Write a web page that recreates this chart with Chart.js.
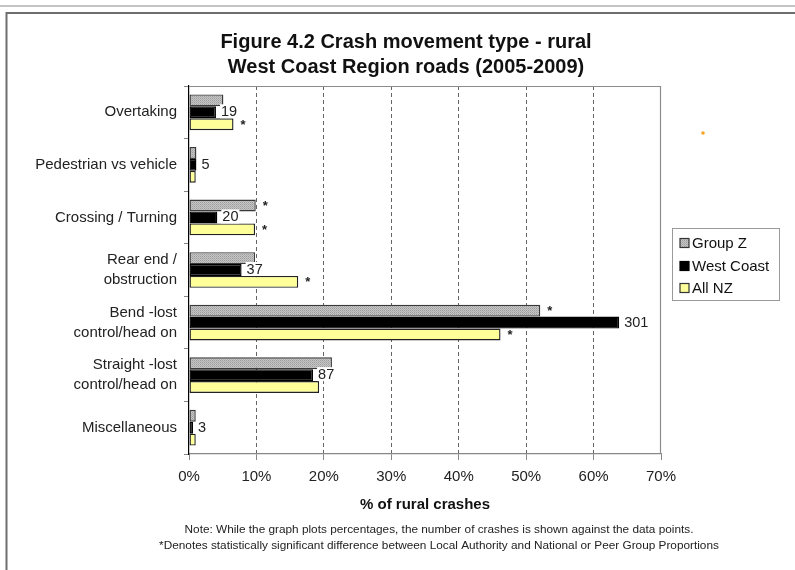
<!DOCTYPE html>
<html>
<head>
<meta charset="utf-8">
<script src="https://cdn.jsdelivr.net/npm/chart.js@4.4.0/dist/chart.umd.min.js"></script>
<style>
  html, body { margin: 0; padding: 0; background: #fff; }
  #wrap { width: 795px; height: 570px; position: relative; }
</style>
</head>
<body>
<div id="wrap"><canvas id="c" width="795" height="570"></canvas></div>
<script>
// ---- data ----
const categories = [
  'Overtaking',
  'Pedestrian vs vehicle',
  'Crossing / Turning',
  ['Rear end /', 'obstruction'],
  ['Bend -lost', 'control/head on'],
  ['Straight -lost', 'control/head on'],
  'Miscellaneous'
];
const seriesNames = ['Group Z', 'West Coast', 'All NZ'];
const groupZ    = [5.1, 1.1, 9.9, 9.8, 52.1, 21.2, 1.0];
const westCoast = [4.0, 1.1, 4.2, 7.8, 63.8, 18.4, 0.6];
const allNZ     = [6.6, 1.0, 9.8, 16.2, 46.2, 19.3, 1.0];
const crashCounts = [19, 5, 20, 37, 301, 87, 3];
const sigGroupZ = [false, false, true, false, true, false, false];
const sigAllNZ  = [true, false, true, true, true, false, false];
const xTicks = [0, 10, 20, 30, 40, 50, 60, 70];
const titleLines = ['Figure 4.2 Crash movement type - rural', 'West Coast Region roads (2005-2009)'];
const xTitle = '% of rural crashes';
const notes = [
  'Note: While the graph plots percentages, the number of crashes is shown against the data points.',
  '*Denotes statistically significant difference between Local Authority and National or Peer Group Proportions'
];

// ---- pattern for Group Z ----
function makePattern() {
  const p = document.createElement('canvas');
  p.width = 2; p.height = 2;
  const g = p.getContext('2d');
  g.fillStyle = '#c6c6c6'; g.fillRect(0, 0, 2, 2);
  g.fillStyle = '#9c9c9c'; g.fillRect(0, 0, 1, 1);
  g.fillStyle = '#aeaeae'; g.fillRect(1, 1, 1, 1);
  return document.getElementById('c').getContext('2d').createPattern(p, 'repeat');
}
const gzPattern = makePattern();
const fills = [gzPattern, '#000000', '#ffff99'];
const borders = ['#3a3a3a', '#000000', '#222222'];

const FONT = "'Liberation Sans', Arial, sans-serif";

const framePlugin = {
  id: 'frame',
  beforeDraw(chart) {
    const ctx = chart.ctx;
    ctx.save();
    ctx.fillStyle = '#fff';
    ctx.fillRect(0, 0, chart.width, chart.height);
    ctx.strokeStyle = '#b0b0b0'; ctx.lineWidth = 1.5;
    ctx.beginPath(); ctx.moveTo(0, 6); ctx.lineTo(795, 6); ctx.stroke();
    ctx.strokeStyle = '#6e6e6e'; ctx.lineWidth = 2;
    ctx.beginPath(); ctx.moveTo(795, 13); ctx.lineTo(6.5, 13); ctx.lineTo(6.5, 570); ctx.stroke();
    // stray orange dot from the original
    ctx.fillStyle = '#f5a623';
    ctx.beginPath(); ctx.arc(703, 133, 1.8, 0, Math.PI * 2); ctx.fill();
    // title
    ctx.fillStyle = '#111';
    ctx.font = 'bold 20px ' + FONT;
    ctx.textAlign = 'center'; ctx.textBaseline = 'middle';
    ctx.fillText(titleLines[0], 406, 42);
    ctx.fillText(titleLines[1], 406, 67);
    ctx.restore();
  },
  beforeDatasetsDraw(chart) {
    const {ctx, chartArea: a} = chart;
    ctx.save();
    ctx.strokeStyle = '#8c8c8c'; ctx.lineWidth = 1.2;
    ctx.beginPath();
    ctx.moveTo(a.left, a.top + 0.5); ctx.lineTo(a.right - 0.5, a.top + 0.5); ctx.lineTo(a.right - 0.5, a.bottom);
    ctx.stroke();
    ctx.restore();
  },
  afterDatasetsDraw(chart) {
    const ctx = chart.ctx;
    ctx.save();
    // crash counts next to West Coast bars
    const wc = chart.getDatasetMeta(1);
    ctx.font = '14.5px ' + FONT;
    ctx.textBaseline = 'middle';
    ctx.textAlign = 'left';
    wc.data.forEach((el, i) => {
      const t = String(crashCounts[i]);
      const w = ctx.measureText(t).width;
      const x = el.x + 5, y = el.y - 1;
      ctx.fillStyle = '#fff';
      ctx.fillRect(x - 1, y - 7, w + 2, 14);
      ctx.fillStyle = '#222';
      ctx.fillText(t, x, y + 1);
    });
    // significance asterisks
    ctx.font = 'bold 13px ' + FONT;
    [[0, sigGroupZ], [2, sigAllNZ]].forEach(([di, sig]) => {
      const meta = chart.getDatasetMeta(di);
      meta.data.forEach((el, i) => {
        if (!sig[i]) return;
        ctx.fillStyle = '#222';
        ctx.fillText('*', el.x + 7, el.y + 1);
      });
    });
    ctx.restore();
  },
  afterDraw(chart) {
    const ctx = chart.ctx;
    ctx.save();
    // legend
    ctx.strokeStyle = '#9a9a9a'; ctx.lineWidth = 1;
    ctx.strokeRect(672.5, 228.5, 107, 72);
    ctx.font = '15px ' + FONT;
    ctx.textBaseline = 'middle'; ctx.textAlign = 'left';
    const rows = [243, 266, 288];
    seriesNames.forEach((n, i) => {
      ctx.fillStyle = fills[i];
      ctx.fillRect(680, rows[i] - 4.5, 9, 9);
      ctx.strokeStyle = i === 1 ? '#000' : '#333';
      ctx.lineWidth = 1.2;
      ctx.strokeRect(680, rows[i] - 4.5, 9, 9);
      ctx.fillStyle = '#111';
      ctx.fillText(n, 692, rows[i] + 1);
    });
    // notes
    ctx.font = '11.8px ' + FONT;
    ctx.fillStyle = '#222';
    ctx.textAlign = 'center';
    ctx.fillText(notes[0], 439, 530);
    ctx.fillText(notes[1], 439, 546);
    ctx.restore();
  }
};

new Chart(document.getElementById('c'), {
  type: 'bar',
  data: {
    labels: categories,
    datasets: [groupZ, westCoast, allNZ].map((d, i) => ({
      label: seriesNames[i],
      data: d,
      backgroundColor: fills[i],
      borderColor: borders[i],
      borderWidth: 1.4,
      borderSkipped: false,
      categoryPercentage: 0.68,
      barPercentage: 1.0
    }))
  },
  options: {
    indexAxis: 'y',
    responsive: false,
    animation: false,
    devicePixelRatio: 1,
    layout: { padding: { left: 0, right: 134, top: 86, bottom: 0 } },
    plugins: {
      legend: { display: false },
      tooltip: { enabled: false },
      title: { display: false }
    },
    scales: {
      x: {
        type: 'linear',
        min: 0, max: 70,
        afterBuildTicks(scale) { scale.ticks = xTicks.map(v => ({ value: v })); },
        afterFit(scale) { scale.height = 116; },
        ticks: {
          color: '#222',
          font: { family: FONT, size: 15 },
          padding: 8,
          callback: v => v + '%'
        },
        grid: {
          color: ctx => (ctx.tick && (ctx.tick.value === 0 || ctx.tick.value === 70)) ? 'rgba(0,0,0,0)' : '#666',
          lineWidth: 1,
          tickColor: '#888',
          tickLength: 6,
          tickBorderDash: []
        },
        border: { display: true, color: '#888', width: 1.2, dash: [4, 3] },
        title: {
          display: true,
          text: xTitle,
          color: '#111',
          font: { family: FONT, size: 15, weight: 'bold' },
          padding: { top: 4, bottom: 56 }
        }
      },
      y: {
        type: 'category',
        afterFit(scale) { scale.width = 189; },
        ticks: {
          color: '#222',
          font: { family: FONT, size: 15, lineHeight: 1.34 },
          padding: 7
        },
        grid: {
          drawOnChartArea: false,
          drawTicks: true,
          tickLength: 5,
          offset: true,
          tickColor: '#888',
          color: '#888'
        },
        border: { display: true, color: '#000', width: 1.2 }
      }
    }
  },
  plugins: [framePlugin]
});
</script>
</body>
</html>
